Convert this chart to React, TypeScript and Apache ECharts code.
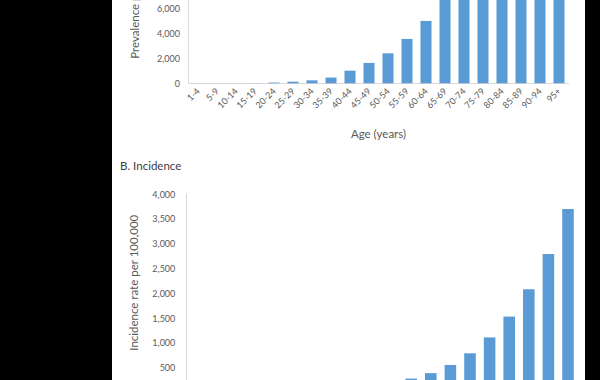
import React, { useEffect, useRef } from "react";
import * as echarts from "echarts";

const ageGroups = [
  "1-4", "5-9", "10-14", "15-19", "20-24", "25-29", "30-34", "35-39", "40-44", "45-49",
  "50-54", "55-59", "60-64", "65-69", "70-74", "75-79", "80-84", "85-89", "90-94", "95+",
];
const prevalenceValues = [
  0, 0, 0, 10, 60, 130, 240, 460, 1010, 1630, 2400, 3550, 4990, 7000, 8900, 10600, 11900, 12800, 13300, 13600,
];
const incidenceValues = [
  0, 0, 2, 5, 10, 18, 30, 50, 80, 120, 190, 280, 390, 555, 790, 1110, 1530, 2080, 2790, 3700,
];
const prevalenceTicks = { min: 0, max: 14000, interval: 2000 };
const incidenceTicks = { min: 0, max: 4000, interval: 500 };

const FONT = "Lato";
const TEXT = "#595959";
const AXIS = "#D9D9D9";
const BAR = "#5B9BD5";

export default function App() {
  const ref = useRef<HTMLDivElement>(null);
  useEffect(() => {
    if (!ref.current) return;
    const chart = echarts.init(ref.current, undefined, { renderer: "svg" });
    const fmt = (v: number) => v.toLocaleString("en-US");
    const xAxisBase = {
      type: "category",
      data: ageGroups,
      axisLine: { show: true, lineStyle: { color: AXIS, width: 1 } },
      axisTick: { show: false },
      axisLabel: { interval: 0, rotate: 45, fontSize: 9, color: TEXT, fontFamily: FONT, margin: 6 },
      nameLocation: "middle",
      nameGap: 44,
      nameTextStyle: { fontSize: 11.5, color: TEXT, fontFamily: FONT },
    };
    const yAxisBase = {
      type: "value",
      axisLine: { show: true, lineStyle: { color: AXIS, width: 1 } },
      axisTick: { show: false },
      splitLine: { show: false },
      nameLocation: "middle",
      nameTextStyle: { fontSize: 11.5, color: TEXT, fontFamily: FONT },
    };
    chart.setOption({
      animation: false,
      backgroundColor: "#000000",
      graphic: [
        {
          type: "rect",
          z: -10,
          silent: true,
          shape: { x: 112, y: 0, width: 473, height: 380 },
          style: { fill: "#ffffff" },
        },
      ],
      title: {
        text: "B. Incidence",
        left: 120,
        top: 159,
        padding: 0,
        textStyle: { fontSize: 11.5, fontWeight: "normal", color: "#404040", fontFamily: FONT },
      },
      grid: [
        { left: 188.5, width: 380, top: -91.7, height: 175, containLabel: false, outerBoundsMode: "none" },
        { left: 185.8, width: 392, top: 194, height: 198.5, containLabel: false, outerBoundsMode: "none" },
      ],
      xAxis: [
        { ...xAxisBase, gridIndex: 0, name: "Age (years)" },
        { ...xAxisBase, gridIndex: 1, axisLabel: { show: false } },
      ],
      yAxis: [
        {
          ...yAxisBase,
          gridIndex: 0,
          ...prevalenceTicks,
          name: "Prevalence per 100,000",
          nameGap: 44.5,
          nameTextStyle: { ...yAxisBase.nameTextStyle, padding: [0, 6, 0, 0] },
          axisLabel: { fontSize: 9, color: TEXT, fontFamily: FONT, margin: 8.5, formatter: fmt },
        },
        {
          ...yAxisBase,
          gridIndex: 1,
          ...incidenceTicks,
          name: "Incidence rate per 100,000",
          nameGap: 46,
          nameTextStyle: { ...yAxisBase.nameTextStyle, padding: [0, 0, 0, 21] },
          axisLabel: { fontSize: 9, color: TEXT, fontFamily: FONT, margin: 10.5, formatter: fmt },
        },
      ],
      series: [
        {
          type: "bar",
          name: "Prevalence",
          xAxisIndex: 0,
          yAxisIndex: 0,
          data: prevalenceValues,
          barCategoryGap: "42%",
          itemStyle: { color: BAR },
        },
        {
          type: "bar",
          name: "Incidence",
          xAxisIndex: 1,
          yAxisIndex: 1,
          data: incidenceValues,
          barCategoryGap: "41%",
          itemStyle: { color: BAR },
        },
      ],
    });
    return () => chart.dispose();
  }, []);
  return (
    <div
      ref={ref}
      style={{ position: "fixed", left: 0, top: 0, width: 600, height: 380, background: "#000" }}
    />
  );
}
